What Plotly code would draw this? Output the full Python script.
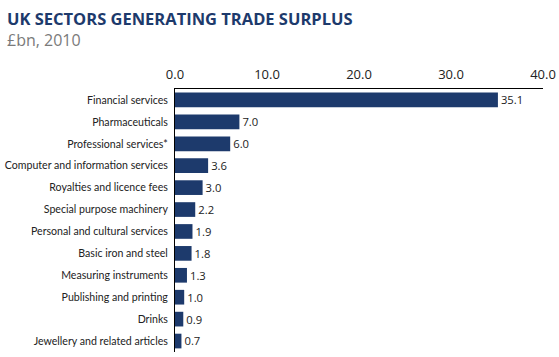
import plotly.graph_objects as go

categories = ["Financial services", "Pharmaceuticals", "Professional services*",
              "Computer and information services", "Royalties and licence fees",
              "Special purpose machinery", "Personal and cultural services",
              "Basic iron and steel", "Measuring instruments", "Publishing and printing",
              "Drinks", "Jewellery and related articles"]
values = [35.1, 7.0, 6.0, 3.6, 3.0, 2.2, 1.9, 1.8, 1.3, 1.0, 0.9, 0.7]
tick_vals = [0, 10, 20, 30, 40]
tick_text = ["0.0", "10.0", "20.0", "30.0", "40.0"]

L, R, T, B, W, H = 175, 16, 89, 5, 559, 357
PW, PH = W - L - R, H - T - B

fig = go.Figure(go.Bar(
    x=values, y=categories, orientation="h",
    marker=dict(color="#1d3a6c", line=dict(width=0)),
    text=[f"{v:.1f}" for v in values], textposition="outside",
    textfont=dict(family="Open Sans", size=11.5, color="#222222"),
    cliponaxis=False,
))

fig.update_layout(
    width=W, height=H,
    margin=dict(l=L, r=R, t=T, b=B, autoexpand=False),
    paper_bgcolor="white", plot_bgcolor="white",
    bargap=0.33,
    showlegend=False,
    font=dict(family="Open Sans", color="#222222"),
    xaxis=dict(side="top", range=[0, 40], tickvals=tick_vals, ticktext=tick_text,
               showgrid=False, zeroline=False, showline=True, linecolor="#000000",
               linewidth=1, ticks="", automargin=False, ticklabelstandoff=4,
               tickfont=dict(size=13, color="#222222")),
    yaxis=dict(autorange="reversed", showgrid=False, zeroline=False, showline=True,
               linecolor="#000000", linewidth=1, ticks="", automargin=False,
               ticklabelstandoff=4,
               tickfont=dict(family="Lato", size=10.6, color="#222222")),
    annotations=[
        dict(text="<b>UK SECTORS GENERATING TRADE SURPLUS</b>",
             x=(5 - L) / PW, y=(H - 18 - B) / PH,
             xref="paper", yref="paper", showarrow=False, xanchor="left", yanchor="middle",
             font=dict(family="Open Sans", size=16.5, color="#1d3a6c")),
        dict(text="£bn, 2010",
             x=(5 - L) / PW, y=(H - 40 - B) / PH,
             xref="paper", yref="paper", showarrow=False, xanchor="left", yanchor="middle",
             font=dict(family="Open Sans", size=16, color="#7a7a7a")),
    ],
)

fig.write_html("out.html", config={"displayModeBar": False},
               post_script="document.body.style.margin='0';document.body.style.overflow='hidden';")
